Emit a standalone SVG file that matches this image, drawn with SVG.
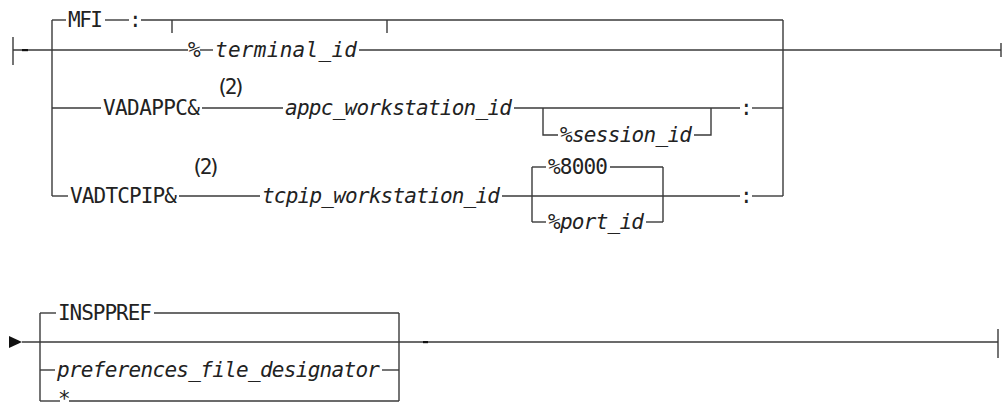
<svg xmlns="http://www.w3.org/2000/svg" width="1003" height="403" viewBox="0 0 1003 403">
  <style>
    .ln { stroke: #3a3a3a; stroke-width: 1.4; fill: none; stroke-linecap: butt; }
    .kw { font-family: "DejaVu Sans Mono", "Liberation Mono", monospace; font-size: 21px; fill: #222; }
    .var { font-family: "DejaVu Sans Mono", "Liberation Mono", monospace; font-size: 21px; font-style: italic; fill: #222; }
    .note { font-family: "DejaVu Sans Mono", "Liberation Mono", monospace; font-size: 21px; fill: #222; }
  </style>
  <rect width="1003" height="403" fill="#fff"/>

  <!-- rails and branches -->
  <g id="connectors" class="ln">
    <!-- upper diagram: start bar and main rail -->
    <path d="M13 37V65"/>
    <path d="M13 50H188"/>
    <path d="M200 50H213"/>
    <path d="M359 50H1001"/>
    <path d="M1001 43V57"/>
    <!-- left fork -->
    <path d="M52 20V196"/>
    <!-- MFI row -->
    <path d="M52 20H66"/>
    <path d="M105 20H129"/>
    <path d="M141 20H783"/>
    <path d="M172 20V33"/>
    <path d="M387 20V33"/>
    <!-- right join -->
    <path d="M783 20V196"/>
    <!-- VADAPPC row -->
    <path d="M52 108H101"/>
    <path d="M202 108H283"/>
    <path d="M514 108H740"/>
    <path d="M752 108H783"/>
    <!-- optional session id -->
    <path d="M543 108V135H558"/>
    <path d="M694 135H711V108"/>
    <!-- VADTCPIP row -->
    <path d="M52 196H68"/>
    <path d="M179 196H260"/>
    <path d="M502 196H740"/>
    <path d="M752 196H783"/>
    <!-- port choice -->
    <path d="M532 167V222"/>
    <path d="M663 167V222"/>
    <path d="M532 167H546"/>
    <path d="M610 167H663"/>
    <path d="M532 222H546"/>
    <path d="M646 222H663"/>

    <!-- lower diagram -->
    <path d="M22 342H998"/>
    <path d="M998 329V358"/>
    <path d="M40 313V401"/>
    <path d="M399 313V401"/>
    <path d="M40 313H56"/>
    <path d="M154 313H399"/>
    <path d="M40 370H55"/>
    <path d="M382 370H399"/>
    <path d="M40 401H60"/>
    <path d="M69 401H399"/>
  </g>

  <!-- small dashes on the rails -->
  <rect x="22" y="49" width="6" height="2.2" fill="#111"/>
  <rect x="423" y="341" width="5" height="2.2" fill="#111"/>
  <!-- entry arrow -->
  <path d="M9 336L22 342L9 348Z" fill="#111"/>

  <g id="n-mfi"><text class="kw" x="68" y="27" textLength="35">MFI</text></g>
  <g id="n-colon1"><text class="kw" x="129" y="27">:</text></g>
  <g id="n-terminal"><text class="var" x="188" y="57">%</text><text class="var" x="215" y="57" textLength="142">terminal_id</text></g>

  <g id="n-note1"><text class="note" x="216" y="94" textLength="30">(2)</text></g>
  <g id="n-vadappc"><text class="kw" x="103" y="115" textLength="97">VADAPPC&amp;</text></g>
  <g id="n-appc"><text class="var" x="285" y="115" textLength="227">appc_workstation_id</text></g>
  <g id="n-session"><text class="var" x="560" y="142" textLength="132">%session_id</text></g>
  <g id="n-colon2"><text class="kw" x="740" y="115">:</text></g>

  <g id="n-note2"><text class="note" x="191" y="174" textLength="30">(2)</text></g>
  <g id="n-vadtcpip"><text class="kw" x="70" y="203" textLength="107">VADTCPIP&amp;</text></g>
  <g id="n-tcpip"><text class="var" x="262" y="203" textLength="238">tcpip_workstation_id</text></g>
  <g id="n-8000"><text class="kw" x="548" y="174" textLength="60">%8000</text></g>
  <g id="n-port"><text class="var" x="548" y="229" textLength="96">%port_id</text></g>
  <g id="n-colon3"><text class="kw" x="740" y="203">:</text></g>

  <g id="n-insppref"><text class="kw" x="58" y="320" textLength="94">INSPPREF</text></g>
  <g id="n-prefs"><text class="var" x="57" y="377" textLength="323">preferences_file_designator</text></g>
  <g id="n-star"><text class="kw" x="58" y="406">*</text></g>
</svg>
